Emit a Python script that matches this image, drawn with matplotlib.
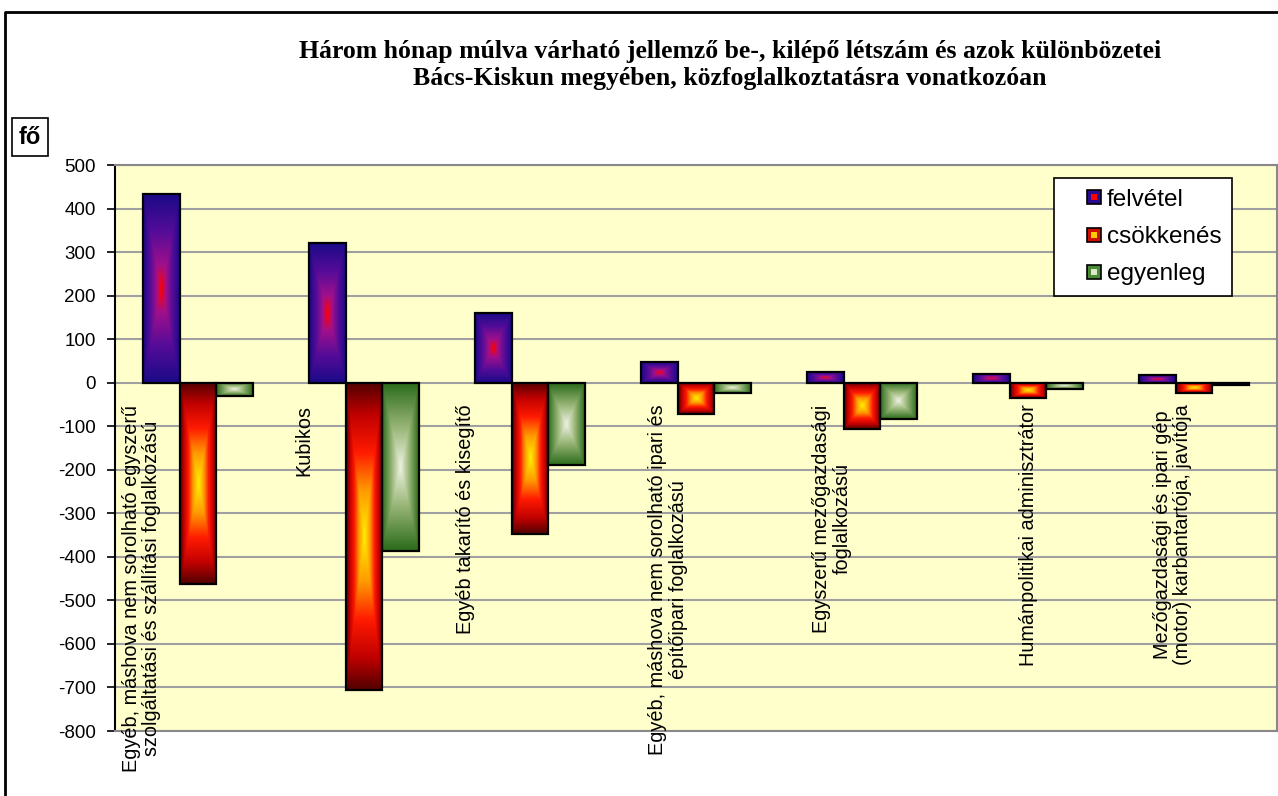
import matplotlib
matplotlib.use("Agg")
import matplotlib.pyplot as plt
import matplotlib.transforms as mtransforms
from matplotlib.colors import LinearSegmentedColormap
from matplotlib.lines import Line2D
from matplotlib.legend_handler import HandlerTuple
import numpy as np

plt.rcParams['font.family'] = ['Liberation Sans', 'DejaVu Sans']

# data
categories = [
    "Egyéb, máshova nem sorolható egyszerű\nszolgáltatási és szállítási foglalkozású",
    "Kubikos",
    "Egyéb takarító és kisegítő",
    "Egyéb, máshova nem sorolható ipari és\népítőipari foglalkozású",
    "Egyszerű mezőgazdasági\nfoglalkozású",
    "Humánpolitikai adminisztrátor",
    "Mezőgazdasági és ipari gép\n(motor) karbantartója, javítója",
]
felvetel = [433, 320, 160, 48, 24, 21, 18]
csokkenes = [-463, -706, -348, -72, -107, -36, -23]
egyenleg = [-30, -386, -188, -24, -83, -15, -5]
series_names = ["felvétel", "csökkenés", "egyenleg"]
yticks = list(range(-800, 501, 100))

# label shift to the left (category units), as Excel placed them
label_shift = [0.34, 0.36, 0.39, 0.17, 0.18, 0.0, 0.13]

cmaps = [
    LinearSegmentedColormap.from_list("felv", [(0, "#ff0000"), (0.25, "#a0108c"),
                                               (0.6, "#560c98"), (1, "#1c0a88")]),
    LinearSegmentedColormap.from_list("csok", [(0, "#ffee00"), (0.3, "#ff9a00"),
                                               (0.55, "#ff1a00"), (0.8, "#c00000"),
                                               (1, "#580000")]),
    LinearSegmentedColormap.from_list("egy", [(0, "#eef2e2"), (0.45, "#9cb87a"),
                                              (1, "#2c6c1c")]),
]
edge_cols = ["#2a0a90", "#d01000", "#4a8a34"]
center_cols = ["#ff0000", "#ffcc00", "#dde8cc"]

fig = plt.figure(figsize=(12.78, 7.96), dpi=100)
ax = fig.add_axes([115 / 1278, 1 - 731 / 796, 1162 / 1278, 566 / 796])
ax.set_facecolor("#ffffcc")

x = np.arange(len(categories))
w = 0.222
n = 80
u = np.linspace(-1, 1, n)
uu, vv = np.meshgrid(u, u)
tt = np.maximum(np.abs(uu), np.abs(vv))

for k, vals in enumerate([felvetel, csokkenes, egyenleg]):
    bars = ax.bar(x + (k - 1) * w, vals, w, facecolor="none", edgecolor="black",
                  linewidth=1.6, zorder=4)
    for b in bars:
        x0, y0 = b.get_x(), b.get_y()
        x1, y1 = x0 + b.get_width(), y0 + b.get_height()
        im = ax.imshow(cmaps[k](tt), extent=(x0, x1, min(y0, y1), max(y0, y1)),
                       aspect="auto", origin="lower", zorder=3, interpolation="bilinear")
        im.set_clip_path(b)

ax.set_xlim(-0.5, len(categories) - 0.5)
ax.set_ylim(-800, 500)
ax.set_yticks(yticks)
ax.set_yticklabels([str(t) for t in yticks], fontsize=13.5)
ax.set_xticks([])
ax.grid(axis="y", color="#a0a0a0", linewidth=1.5, zorder=1)
ax.set_axisbelow(True)
for s in ["top", "right", "bottom"]:
    ax.spines[s].set_color("#888888")
    ax.spines[s].set_linewidth(1.5)
ax.spines["left"].set_color("black")
ax.spines["left"].set_linewidth(1.5)
ax.tick_params(axis="y", direction="out", length=6, width=1.2, pad=8)

trans = mtransforms.offset_copy(ax.transData, fig=fig, y=-22, units="dots")
for i, lab in enumerate(categories):
    ax.text(i - label_shift[i], 0, lab, rotation=90, ha="center", va="top",
            multialignment="center", fontsize=14.3, transform=trans,
            clip_on=False, zorder=5, linespacing=1.12)

handles = []
for k in range(3):
    outer = Line2D([], [], marker="s", markersize=10, markerfacecolor=edge_cols[k],
                   markeredgecolor="black", markeredgewidth=1.2, linestyle="none")
    inner = Line2D([], [], marker="s", markersize=4, markerfacecolor=center_cols[k],
                   markeredgewidth=0, linestyle="none")
    handles.append((outer, inner))
leg = ax.legend(handles, series_names, handler_map={tuple: HandlerTuple(ndivide=1)},
                loc="upper left", bbox_to_anchor=(0.808, 0.977), borderaxespad=0,
                fontsize=17.5, frameon=True, fancybox=False, edgecolor="black",
                framealpha=1, facecolor="white",
                handlelength=2.4, handletextpad=-0.67, labelspacing=0.62,
                borderpad=0.45)
leg.get_frame().set_linewidth(1.2)
leg.set_zorder(6)

fig.text(730 / 1278, 1 - 40 / 796,
         "Három hónap múlva várható jellemző be-, kilépő létszám és azok különbözetei\n"
         "Bács-Kiskun megyében, közfoglalkoztatásra vonatkozóan",
         ha="center", va="top", fontsize=18.5, fontweight="bold",
         family="Liberation Serif", linespacing=1.25)

fig.text(30 / 1278, 1 - 137 / 796, "fő", ha="center", va="center", fontsize=17,
         fontweight="bold",
         bbox=dict(boxstyle="square,pad=0.3", facecolor="white", edgecolor="black",
                   linewidth=1.2))

# outer chart frame (cut off at right and bottom)
fig.add_artist(Line2D([5 / 1278, 5 / 1278, 1.0], [0.0, 1 - 12 / 796, 1 - 12 / 796],
                      transform=fig.transFigure, color="black", linewidth=2))

fig.savefig("out.png", dpi=100)
